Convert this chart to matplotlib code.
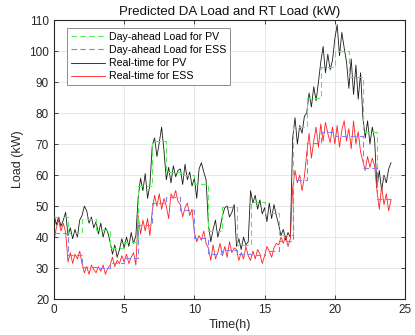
import numpy as np
import matplotlib
matplotlib.use("Agg")
import matplotlib.pyplot as plt

plt.rcParams['font.family'] = ['Liberation Sans', 'DejaVu Sans']

# Day-ahead hourly loads (kW), hours 0..23
da_hours = list(range(25))
da_pv = [46.5, 41.3, 45.8, 42.2, 36.5, 38.5, 56.5, 71.0, 61.0, 60.0, 57.0, 42.0,
         49.7, 37.4, 51.3, 47.7, 40.6, 75.5, 85.0, 94.8, 100.0, 91.6, 74.0, 59.4]
da_ess = [41.3, 34.2, 30.3, 30.0, 31.6, 33.2, 44.0, 51.0, 52.9, 48.7, 39.7, 34.5,
          35.8, 34.5, 34.2, 35.5, 38.7, 58.4, 70.3, 74.0, 72.6, 72.6, 62.3, 52.3]

# Real-time loads, 10-min samples from 0 h to 24 h
rt_pv = [
    47.5, 44.0, 46.5, 43.5, 45.5, 48.0,
    40.5, 43.0, 39.5, 42.5, 40.0, 45.5,
    47.0, 50.0, 48.5, 44.5, 46.5, 43.0,
    45.0, 41.0, 44.5, 40.0, 43.0, 41.5,
    38.5, 34.5, 37.5, 33.5, 36.0, 39.5,
    36.5, 40.0, 37.0, 41.5, 38.0, 40.5,
    53.0, 59.0, 55.0, 60.5, 52.5, 57.0,
    69.5, 72.0, 66.0, 70.5, 75.5, 68.0,
    58.5, 62.5, 57.5, 63.0, 59.5, 61.5,
    62.0, 57.0, 63.5, 58.5, 61.0, 56.5,
    59.0, 52.5, 62.0, 64.0, 61.0, 58.5,
    44.0, 38.5, 42.5, 45.5, 40.0, 43.0,
    47.0, 49.5, 50.0, 46.5, 48.0, 50.5,
    37.0, 39.5, 36.0, 40.0, 37.5, 38.5,
    55.0, 51.0, 53.5, 49.0, 52.0, 47.5,
    49.5, 45.0, 51.0, 46.0, 50.5, 47.0,
    44.0, 40.5, 42.5, 39.0, 41.5, 40.0,
    72.0, 78.5, 70.0, 76.0, 73.5, 79.0,
    80.0, 86.5, 82.0, 88.5, 84.0, 90.0,
    96.5, 101.5, 93.0, 99.0, 94.0, 97.0,
    104.0, 108.5, 98.5, 106.0, 101.0, 96.5,
    88.0, 97.5, 86.0, 95.5, 84.5, 93.0,
    78.5, 72.0, 77.5, 70.0, 75.5, 71.5,
    56.0, 61.5, 55.0, 60.0, 57.5, 62.0,
    64.0]
rt_ess = [
    38.5, 43.0, 45.5, 42.0, 44.5, 41.5,
    32.0, 35.0, 31.5, 34.5, 33.0, 35.5,
    31.5, 28.5, 30.5, 28.0, 31.0, 29.5,
    28.5, 30.5, 29.0, 31.0, 28.0, 30.0,
    31.0, 33.5, 30.5, 32.5, 31.5, 34.0,
    32.0, 34.5, 31.5, 33.5, 35.0, 31.0,
    47.0, 41.0, 45.5, 42.0, 46.0, 40.5,
    48.5, 53.5, 50.0, 54.0, 49.0, 52.5,
    50.0, 46.0, 54.0, 52.5, 55.0, 51.5,
    50.5, 46.5, 49.5, 51.0, 47.0, 49.0,
    41.5, 38.5, 40.5, 39.0, 42.0, 38.0,
    36.5, 32.5, 37.5, 33.0, 35.0, 38.0,
    34.0, 37.0, 33.5, 38.5, 35.0, 36.5,
    36.0, 32.5, 35.0, 33.0, 37.0, 34.0,
    32.5, 35.5, 33.0, 36.0, 34.5, 31.5,
    34.0, 37.0, 35.5, 33.5, 36.5, 38.0,
    37.5, 40.0, 38.0, 40.5, 37.0, 39.5,
    56.0, 61.5, 57.5, 60.0, 55.0, 59.5,
    67.0, 73.5, 65.5, 71.0, 75.5, 69.0,
    76.5, 71.0, 77.0, 73.5, 70.5, 75.5,
    70.0, 76.0, 69.0, 74.5, 77.5, 71.0,
    75.0, 68.5, 77.5, 70.0, 74.0, 67.5,
    64.5, 61.5, 66.0, 62.5, 65.5, 63.0,
    55.0, 49.0, 56.5, 50.5, 54.0, 48.5,
    52.0]
rt_time = np.arange(len(rt_pv)) / 6.0

xticks = [0, 5, 10, 15, 20, 25]
yticks = [20, 30, 40, 50, 60, 70, 80, 90, 100, 110]

fig = plt.figure(figsize=(4.15, 3.35), dpi=100)
ax = fig.add_axes([0.130, 0.107, 0.846, 0.833])

ax.plot(da_hours, da_pv + [da_pv[-1]], drawstyle='steps-post', color='#55ee55',
        lw=0.8, dashes=(5, 3), label='Day-ahead Load for PV', zorder=3)
ax.plot(da_hours, da_ess + [da_ess[-1]], drawstyle='steps-post', color='#8080ff',
        lw=0.8, dashes=(5, 3), label='Day-ahead Load for ESS', zorder=3)
ax.plot(rt_time, rt_pv, color='#1a1a1a', lw=0.6, label='Real-time for PV', zorder=2)
ax.plot(rt_time, rt_ess, color='#ff2020', lw=0.6, label='Real-time for ESS', zorder=2)

ax.set_xlim(0, 25)
ax.set_ylim(20, 110)
ax.set_xticks(xticks)
ax.set_yticks(yticks)
ax.grid(True, color='#e3e3e3', lw=0.6)
ax.set_axisbelow(True)
ax.tick_params(direction='in', top=True, right=True, labelsize=8.5, colors='#262626',
               length=3, width=0.6)
for s in ax.spines.values():
    s.set_linewidth(0.8)
    s.set_color('#262626')

ax.set_title('Predicted DA Load and RT Load (kW)', fontsize=9.5, color='#111111', pad=4)
ax.set_xlabel('Time(h)', fontsize=9, color='#262626', labelpad=2)
ax.set_ylabel('Load (kW)', fontsize=9, color='#262626', labelpad=4)

leg = ax.legend(loc='upper left', bbox_to_anchor=(0.037, 0.971), fontsize=7.6,
                handlelength=3.3, fancybox=False, framealpha=1, edgecolor='#8c8c8c',
                borderpad=0.35, labelspacing=0.3, handletextpad=0.3, borderaxespad=0)
leg.get_frame().set_linewidth(0.7)

fig.savefig('out.png', dpi=100)
